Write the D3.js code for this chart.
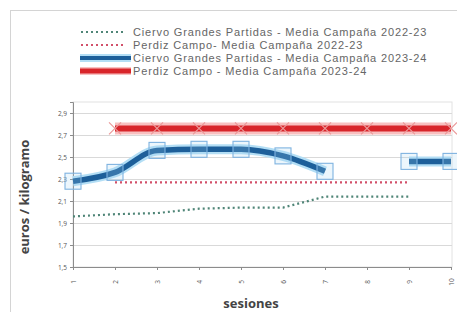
<!DOCTYPE html>
<html>
<head>
<meta charset="utf-8">
<script src="https://cdn.jsdelivr.net/npm/d3@7"></script>
<style>
  body { margin: 0; background: #fff; }
  text { font-family: "Open Sans", "Liberation Sans", sans-serif; }
</style>
</head>
<body>
<div id="chart"></div>
<script>
// data
var sessions = ["1", "2", "3", "4", "5", "6", "7", "8", "9", "10"];
var yTicks = [1.5, 1.7, 1.9, 2.1, 2.3, 2.5, 2.7, 2.9];
var ciervo2223 = [1.96, 1.98, 1.99, 2.03, 2.04, 2.04, 2.14, 2.14, 2.14, null];
var perdiz2223 = [null, 2.27, 2.27, 2.27, 2.27, 2.27, 2.27, 2.27, 2.27, null];
var ciervo2324 = [2.28, 2.36, 2.56, 2.57, 2.57, 2.51, 2.37, null, 2.46, 2.46];
var perdiz2324 = [null, 2.76, 2.76, 2.76, 2.76, 2.76, 2.76, 2.76, 2.76, 2.76];
var legendLabels = [
  "Ciervo Grandes Partidas - Media Campaña 2022-23",
  "Perdiz Campo- Media Campaña 2022-23",
  "Ciervo Grandes Partidas - Media Campaña 2023-24",
  "Perdiz Campo - Media Campaña 2023-24"
];

var W = 457, H = 312;
var plot = {left: 73, right: 451, top: 102, bottom: 267};

var svg = d3.select("#chart").append("svg")
    .attr("width", W)
    .attr("height", H);

// outer chart frame
svg.append("rect")
    .attr("x", 10.5).attr("y", 10.5)
    .attr("width", 460).attr("height", 320)
    .attr("fill", "#fff")
    .attr("stroke", "#d4d4d4");

var x = d3.scalePoint().domain(sessions).range([plot.left, plot.right]);
var y = d3.scaleLinear().domain([1.5, 3.0]).range([plot.bottom, plot.top]);

// plot area border + gridlines
svg.append("rect")
    .attr("x", plot.left).attr("y", plot.top)
    .attr("width", plot.right - plot.left + 1).attr("height", plot.bottom - plot.top)
    .attr("fill", "none")
    .attr("stroke", "#e2e2e2");

svg.append("g")
  .selectAll("line")
  .data(yTicks)
  .enter().append("line")
    .attr("x1", plot.left).attr("x2", plot.right + 1)
    .attr("y1", function(d) { return Math.round(y(d)) + 0.5; })
    .attr("y2", function(d) { return Math.round(y(d)) + 0.5; })
    .attr("stroke", "#d9d9d9");

// axes
var yAxis = svg.append("g")
    .attr("transform", "translate(" + plot.left + ",0)")
    .call(d3.axisLeft(y).tickValues(yTicks).tickSize(3)
      .tickFormat(function(d) { return d3.format(".1f")(d).replace(".", ","); }));
yAxis.select(".domain").attr("stroke", "#8c8c8c");
yAxis.selectAll(".tick line").attr("stroke", "#8c8c8c");
yAxis.selectAll("text").attr("font-size", 6.5).attr("fill", "#555").attr("x", -6);

var xAxis = svg.append("g")
    .attr("transform", "translate(0," + plot.bottom + ")")
    .call(d3.axisBottom(x).tickSize(3));
xAxis.select(".domain").attr("stroke", "#8c8c8c");
xAxis.selectAll(".tick line").attr("stroke", "#8c8c8c");
xAxis.selectAll("text")
    .attr("font-size", 6.5).attr("fill", "#555")
    .attr("transform", "rotate(-90)")
    .attr("x", -15).attr("y", 0).attr("dy", "0.35em")
    .attr("text-anchor", "middle");

// axis titles
svg.append("text")
    .attr("x", 251).attr("y", 308)
    .attr("text-anchor", "middle")
    .attr("font-size", 13).attr("font-weight", "bold").attr("fill", "#444")
    .text("sesiones");

svg.append("text")
    .attr("transform", "translate(29,197) rotate(-90)")
    .attr("text-anchor", "middle")
    .attr("font-size", 13).attr("font-weight", "bold").attr("fill", "#444")
    .text("euros / kilogramo");

function pts(vals) {
  return vals.map(function(v, i) { return {s: sessions[i], v: v}; });
}

var line = d3.line()
    .defined(function(d) { return d.v != null; })
    .x(function(d) { return x(d.s); })
    .y(function(d) { return y(d.v); });

var smooth = d3.line()
    .defined(function(d) { return d.v != null; })
    .curve(d3.curveMonotoneX)
    .x(function(d) { return x(d.s); })
    .y(function(d) { return y(d.v); });

// dotted 2022-23 series
svg.append("path")
    .datum(pts(ciervo2223))
    .attr("d", line)
    .attr("fill", "none")
    .attr("stroke", "#4f8577")
    .attr("stroke-width", 2.2)
    .attr("stroke-dasharray", "2,3");

svg.append("path")
    .datum(pts(perdiz2223))
    .attr("d", line)
    .attr("fill", "none")
    .attr("stroke", "#d2506a")
    .attr("stroke-width", 2.2)
    .attr("stroke-dasharray", "2,3");

// Perdiz 2023-24 thick red with glow
svg.append("path")
    .datum(pts(perdiz2324))
    .attr("d", line)
    .attr("fill", "none")
    .attr("stroke", "#f8c0c0")
    .attr("stroke-width", 12);
svg.append("path")
    .datum(pts(perdiz2324))
    .attr("d", line)
    .attr("fill", "none")
    .attr("stroke", "#d8252a")
    .attr("stroke-width", 6);

svg.append("g")
  .selectAll("path")
  .data(pts(perdiz2324).filter(function(d) { return d.v != null; }))
  .enter().append("path")
    .attr("transform", function(d) { return "translate(" + x(d.s) + "," + y(d.v) + ")"; })
    .attr("d", "M-6,-6L6,6M-6,6L6,-6")
    .attr("stroke", "#eb9a9a")
    .attr("stroke-width", 1.2)
    .attr("fill", "none");

// Ciervo 2023-24 thick blue smoothed with glow
svg.append("path")
    .datum(pts(ciervo2324))
    .attr("d", smooth)
    .attr("fill", "none")
    .attr("stroke", "#b3def5")
    .attr("stroke-width", 10);
svg.append("path")
    .datum(pts(ciervo2324))
    .attr("d", smooth)
    .attr("fill", "none")
    .attr("stroke", "#1d5f9a")
    .attr("stroke-width", 5.5);

svg.append("g")
  .selectAll("rect")
  .data(pts(ciervo2324).filter(function(d) { return d.v != null; }))
  .enter().append("rect")
    .attr("x", function(d) { return x(d.s) - 8; })
    .attr("y", function(d) { return y(d.v) - 8; })
    .attr("width", 16).attr("height", 16)
    .attr("fill", "#9fd0f0").attr("fill-opacity", 0.2)
    .attr("stroke", "#7fb3e0")
    .attr("stroke-width", 1.1);

// legend
var legend = svg.append("g");
var legendY = [32, 45, 58, 71];
legendLabels.forEach(function(label, i) {
  var g = legend.append("g").attr("transform", "translate(0," + legendY[i] + ")");
  if (i < 2) {
    g.append("line")
        .attr("x1", 81).attr("x2", 126)
        .attr("stroke", i == 0 ? "#4f8577" : "#d2506a")
        .attr("stroke-width", 2)
        .attr("stroke-dasharray", "2,3");
  } else if (i == 2) {
    g.append("line").attr("x1", 80).attr("x2", 131)
        .attr("stroke", "#b3def5").attr("stroke-width", 8);
    g.append("line").attr("x1", 80).attr("x2", 131)
        .attr("stroke", "#1d5f9a").attr("stroke-width", 4);
  } else {
    g.append("line").attr("x1", 80).attr("x2", 131)
        .attr("stroke", "#f8c0c0").attr("stroke-width", 8);
    g.append("line").attr("x1", 80).attr("x2", 131)
        .attr("stroke", "#d8252a").attr("stroke-width", 5);
  }
  g.append("text")
      .attr("x", 133).attr("dy", "0.35em")
      .style("font-family", "'Liberation Sans', Arial, sans-serif")
      .attr("font-size", 11).attr("fill", "#666")
      .attr("letter-spacing", 0.85)
      .text(label);
});
</script>
</body>
</html>
